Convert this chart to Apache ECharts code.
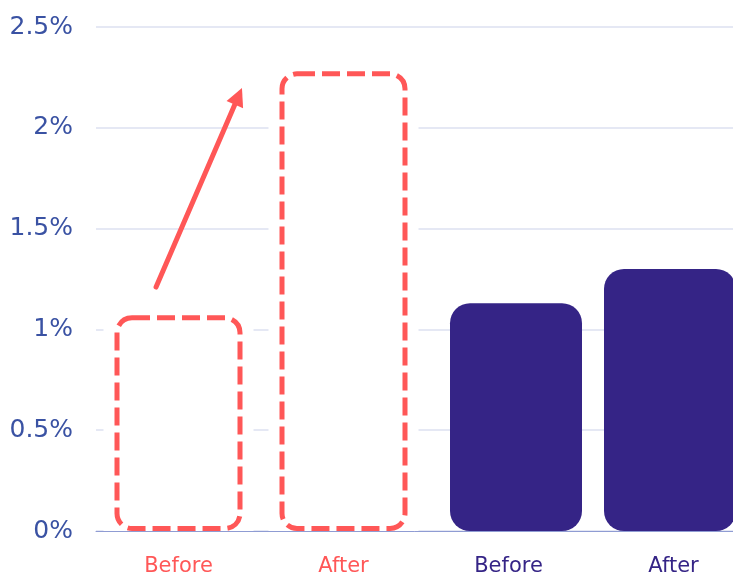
<!DOCTYPE html>
<html>
<head>
<meta charset="utf-8">
<script src="https://cdn.jsdelivr.net/npm/echarts@6/dist/echarts.min.js"></script>
<style>html,body{margin:0;padding:0;background:#fff;}#c{width:733px;height:576px;}</style>
</head>
<body>
<div id="c"></div>
<script>
// ---- data ----
var categories = ['Before', 'After', 'Before', 'After'];
var outlineValues = [1.07, 2.28, '-', '-'];     // dashed (projected) bars
var solidCategories = ['Before', 'After'];
var solidValues = [1.13, 1.30];                   // filled bars
var yTicks = [0, 0.5, 1, 1.5, 2, 2.5];
var tickLabels = ['0%', '0.5%', '1%', '1.5%', '2%', '2.5%'];
var arrowFrom = [-0.136, 1.21];
var arrowTo = [0.363, 2.156];

var RED = '#ff5757';
var PURPLE = '#352486';
var FONT = 'DejaVu Sans';

var chart = echarts.init(document.getElementById('c'), null, {renderer: 'canvas'});
chart.setOption({
  animation: false,
  backgroundColor: '#ffffff',
  grid: [
    {left: 96, width: 660, top: 27, height: 504, containLabel: false, outerBoundsMode: 'none'},
    {left: 439, width: 308, top: 27, height: 504, containLabel: false, outerBoundsMode: 'none'}
  ],
  xAxis: [
    {
      type: 'category', gridIndex: 0, data: categories,
      axisLine: {show: true, lineStyle: {color: '#8f9cd3', width: 1}},
      axisTick: {show: false},
      axisLabel: {
        margin: 25, fontSize: 21, fontFamily: FONT,
        color: function (v, i) { return i < 2 ? RED : PURPLE; }
      }
    },
    {type: 'category', gridIndex: 0, data: categories, show: false},
    {type: 'value', gridIndex: 0, min: -0.5, max: 3.5, show: false},
    {type: 'category', gridIndex: 1, data: solidCategories, show: false}
  ],
  yAxis: [
    {
      type: 'value', gridIndex: 0, min: 0, max: 2.5, interval: 0.5,
      axisLine: {show: false}, axisTick: {show: false},
      splitLine: {show: true, lineStyle: {color: '#dde1f0', width: 1.5}},
      axisLabel: {
        margin: 23, fontSize: 25, fontFamily: FONT, color: '#3a52a3',
        formatter: function (v) { var i = yTicks.indexOf(v); return i >= 0 ? tickLabels[i] : ''; }
      }
    },
    {type: 'value', gridIndex: 1, min: 0, max: 2.5, show: false}
  ],
  series: [
    {
      // white backing that hides grid lines around dashed bars
      type: 'bar', xAxisIndex: 1, yAxisIndex: 0, data: outlineValues,
      barWidth: 150, silent: true, z: 2,
      itemStyle: {color: '#ffffff'}
    },
    {
      type: 'bar', xAxisIndex: 0, yAxisIndex: 0, data: outlineValues,
      barWidth: 128, z: 3,
      itemStyle: {
        color: '#ffffff', borderColor: RED, borderWidth: 5,
        borderType: [18, 7], borderRadius: 15
      }
    },
    {
      type: 'bar', xAxisIndex: 3, yAxisIndex: 1, data: solidValues,
      barWidth: 132, z: 3,
      itemStyle: {color: PURPLE, borderRadius: 20}
    },
    {
      type: 'lines', coordinateSystem: 'cartesian2d', xAxisIndex: 2, yAxisIndex: 0,
      z: 5, silent: true,
      symbol: ['none', 'triangle'], symbolSize: [22, 18],
      lineStyle: {color: RED, width: 5, opacity: 1, curveness: 0, cap: 'round'},
      itemStyle: {color: RED},
      data: [{coords: [arrowFrom, arrowTo]}]
    }
  ]
});
</script>
</body>
</html>
